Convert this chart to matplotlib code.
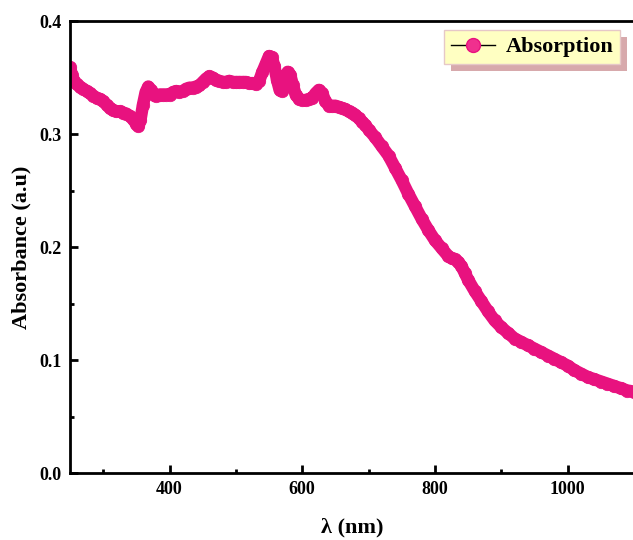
import matplotlib.pyplot as plt
from matplotlib.lines import Line2D
from matplotlib.patches import Rectangle
from matplotlib.ticker import MultipleLocator, FormatStrFormatter

# UV-Vis absorption spectrum
wavelength = [250, 253, 256, 260, 265, 270, 275, 280, 285, 290, 295, 300, 305, 310, 315, 320,
              325, 330, 335, 340, 345, 350, 353, 356, 360, 364, 368, 372, 376, 380, 385, 390,
              395, 400, 405, 410, 415, 420, 425, 430, 435, 440, 445, 450, 455, 460, 465, 470,
              475, 480, 485, 490, 495, 500, 505, 510, 515, 520, 525, 530, 535, 540, 545, 550,
              554, 558, 562, 566, 570, 574, 578, 582, 586, 590, 595, 600, 605, 610, 615, 620,
              625, 630, 635, 640, 645, 650, 655, 660, 665, 670, 675, 680, 685, 690, 695, 700,
              710, 720, 730, 740, 750, 760, 770, 780, 790, 800, 810, 820, 825, 830, 835, 840,
              845, 850, 860, 870, 880, 890, 900, 910, 920, 930, 940, 950, 960, 970, 980, 990,
              1000, 1010, 1020, 1030, 1040, 1050, 1060, 1070, 1080, 1090, 1100]
absorbance = [0.359, 0.352, 0.347, 0.344, 0.342, 0.340, 0.338, 0.336, 0.334, 0.332, 0.331, 0.329,
              0.326, 0.323, 0.321, 0.320, 0.320, 0.319, 0.318, 0.316, 0.313, 0.309, 0.307, 0.312,
              0.326, 0.337, 0.342, 0.339, 0.335, 0.334, 0.335, 0.335, 0.335, 0.335, 0.337, 0.338,
              0.337, 0.338, 0.340, 0.341, 0.341, 0.342, 0.343, 0.346, 0.349, 0.351, 0.350, 0.348,
              0.347, 0.346, 0.346, 0.347, 0.346, 0.346, 0.346, 0.346, 0.346, 0.345, 0.345, 0.344,
              0.347, 0.355, 0.362, 0.369, 0.368, 0.360, 0.348, 0.339, 0.338, 0.348, 0.355, 0.352,
              0.343, 0.335, 0.331, 0.330, 0.330, 0.331, 0.332, 0.336, 0.339, 0.336, 0.329, 0.325,
              0.325, 0.325, 0.324, 0.323, 0.322, 0.320, 0.319, 0.317, 0.314, 0.311, 0.308, 0.304,
              0.297, 0.289, 0.281, 0.270, 0.259, 0.247, 0.236, 0.225, 0.215, 0.206, 0.199, 0.192,
              0.190, 0.189, 0.187, 0.183, 0.177, 0.171, 0.161, 0.152, 0.143, 0.135, 0.129, 0.124,
              0.119, 0.116, 0.113, 0.110, 0.107, 0.104, 0.101, 0.098, 0.095, 0.091, 0.088, 0.085,
              0.083, 0.081, 0.079, 0.077, 0.075, 0.073, 0.072]

pink = '#E8127F'
plt.rcParams['font.family'] = ['Liberation Serif', 'DejaVu Serif']
plt.rcParams['font.weight'] = 'bold'

fig = plt.figure(figsize=(6.33, 5.4), dpi=100)
ax = fig.add_axes([0.1106, 0.124, 0.891, 0.837])

# thick band of overlapping circles
ax.plot(wavelength, absorbance, color=pink, lw=9, solid_capstyle='round',
        solid_joinstyle='round', marker='o', ms=9, mfc=pink, mec=pink, mew=0.5, zorder=2)

ax.set_xlim(250, 1100)
ax.set_ylim(0, 0.4)
ax.xaxis.set_major_locator(MultipleLocator(200))
ax.xaxis.set_minor_locator(MultipleLocator(100))
ax.yaxis.set_major_locator(MultipleLocator(0.1))
ax.yaxis.set_minor_locator(MultipleLocator(0.05))
ax.yaxis.set_major_formatter(FormatStrFormatter('%.1f'))
ax.tick_params(which='major', direction='in', length=6, width=2, labelsize=13, pad=6)
ax.tick_params(which='minor', direction='in', length=3, width=2)
ax.tick_params(top=False, right=False)
for s in ax.spines.values():
    s.set_linewidth(2)

ax.set_xlabel('λ (nm)', fontsize=16, fontweight='bold', labelpad=14)
ax.set_ylabel('Absorbance (a.u)', fontsize=16, fontweight='bold', labelpad=6)

handle = Line2D([], [], color='black', lw=1, marker='o', ms=10, mfc='#F0308E', mec=pink)
leg = ax.legend([handle], ['Absorption'], loc='upper right', bbox_to_anchor=(0.976, 0.98),
                borderaxespad=0, fancybox=False, framealpha=1, facecolor='#FFFFC2',
                edgecolor='#E6C8C8', prop={'size': 16, 'weight': 'bold'}, handlelength=2.0,
                handletextpad=0.5, borderpad=0.3, numpoints=1)
leg.set_zorder(5)

# offset shadow behind the legend box
fig.canvas.draw()
bb = leg.get_window_extent()
ax.add_patch(Rectangle((bb.x0 + 7, bb.y0 - 7), bb.width, bb.height, transform=None,
                       facecolor='#D7A9AC', edgecolor='none', zorder=4.9, clip_on=False))

fig.savefig('out.png', dpi=100)
